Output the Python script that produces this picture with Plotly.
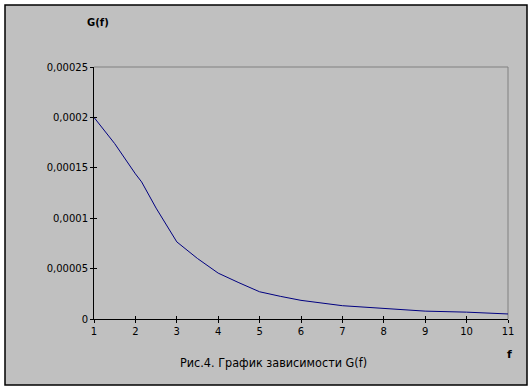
import plotly.graph_objects as go

# Data
f_vals = [1, 1.5, 2, 2.15, 2.5, 3, 3.5, 4, 4.5, 5, 5.5, 6, 7, 8, 9, 10, 11]
g_vals = [2.0e-4, 1.74e-4, 1.44e-4, 1.36e-4, 1.10e-4, 7.65e-5, 6.0e-5, 4.55e-5,
          3.6e-5, 2.7e-5, 2.25e-5, 1.85e-5, 1.32e-5, 1.03e-5, 7.8e-6, 6.8e-6, 5.0e-6]

y_tickvals = [0, 0.00005, 0.0001, 0.00015, 0.0002, 0.00025]
y_ticktext = ["0", "0,00005", "0,0001", "0,00015", "0,0002", "0,00025"]
x_tickvals = [1, 2, 3, 4, 5, 6, 7, 8, 9, 10, 11]
x_ticktext = [str(v) for v in x_tickvals]

title_text = "Рис.4. График зависимости G(f)"
y_label = "G(f)"
x_label = "f"

W, H = 532, 391
L, R, T, B = 94, 508, 67, 319  # plot area in px
pw, ph = R - L, B - T

def px_x(px):
    return (px - L) / pw

def px_y(py):
    return (B - py) / ph

font_main = "DejaVu Sans, Verdana, sans-serif"

fig = go.Figure()
fig.add_trace(go.Scatter(x=f_vals, y=g_vals, mode="lines",
                         line=dict(color="#000080", width=1), showlegend=False,
                         hoverinfo="skip"))
# invisible trace on overlay axes so they render
fig.add_trace(go.Scatter(x=[1], y=[0], xaxis="x2", yaxis="y2", mode="markers",
                         marker=dict(opacity=0), showlegend=False, hoverinfo="skip"))

fig.update_layout(
    width=W, height=H,
    margin=dict(l=L, r=W - R, t=T, b=H - B, pad=0),
    paper_bgcolor="white",
    plot_bgcolor="rgba(0,0,0,0)",
    font=dict(family=font_main, size=10, color="black"),
    xaxis=dict(range=[1, 11], tickvals=x_tickvals, ticktext=x_ticktext,
               showgrid=False, zeroline=False, showline=True, linecolor="black",
               linewidth=1, ticks="outside", ticklen=3, tickcolor="black",
               tickfont=dict(size=10, family=font_main)),
    yaxis=dict(range=[0, 0.00025], tickvals=y_tickvals, ticktext=y_ticktext,
               showgrid=False, zeroline=False, showline=True, linecolor="black",
               linewidth=1, ticks="outside", ticklen=3, tickcolor="black",
               tickfont=dict(size=10, family=font_main)),
    xaxis2=dict(range=[1, 11], tickvals=x_tickvals, overlaying="x", side="bottom",
                showgrid=False, zeroline=False, showline=False, ticks="inside",
                ticklen=3, tickcolor="black", showticklabels=False),
    yaxis2=dict(range=[0, 0.00025], tickvals=y_tickvals, overlaying="y", side="left",
                showgrid=False, zeroline=False, showline=False, ticks="inside",
                ticklen=3, tickcolor="black", showticklabels=False),
    shapes=[
        dict(type="rect", xref="paper", yref="paper", layer="below",
             x0=px_x(5), x1=px_x(527), y0=px_y(385), y1=px_y(5),
             fillcolor="#C0C0C0", line=dict(color="black", width=1.5)),
        dict(type="line", xref="paper", yref="paper", layer="below",
             x0=0, x1=1, y0=1, y1=1, line=dict(color="#808080", width=1)),
        dict(type="line", xref="paper", yref="paper", layer="below",
             x0=1, x1=1, y0=0, y1=1, line=dict(color="#808080", width=1)),
    ],
    annotations=[
        dict(text="<b>" + y_label + "</b>", xref="paper", yref="paper",
             x=px_x(98), y=px_y(23), xanchor="center", yanchor="middle",
             showarrow=False, font=dict(size=10, family=font_main)),
        dict(text="<b>" + x_label + "</b>", xref="paper", yref="paper",
             x=px_x(509), y=px_y(354), xanchor="center", yanchor="middle",
             showarrow=False, font=dict(size=11, family=font_main)),
        dict(text=title_text, xref="paper", yref="paper",
             x=px_x(273), y=px_y(362), xanchor="center", yanchor="middle",
             showarrow=False,
             font=dict(size=12.5, family="DejaVu Sans Condensed, Liberation Sans Narrow, sans-serif")),
    ],
)

fig.write_html("out.html", config={"displayModeBar": False},
               post_script="document.body.style.margin='0';document.body.style.padding='0';")
